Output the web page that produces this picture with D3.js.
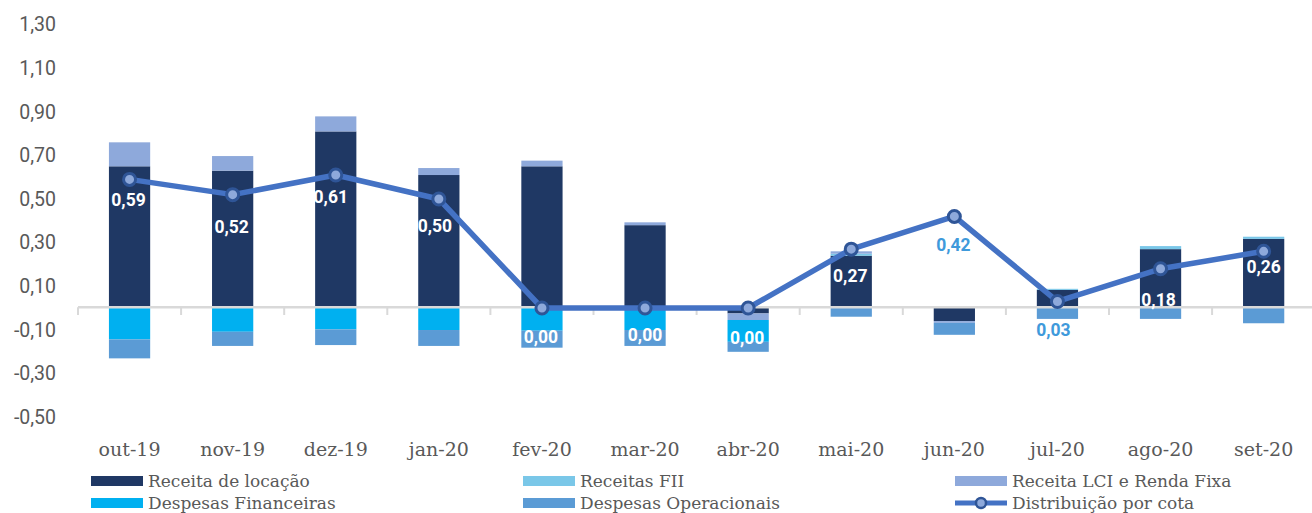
<!DOCTYPE html>
<html>
<head>
<meta charset="utf-8">
<script src="https://cdn.jsdelivr.net/npm/d3@7"></script>
<style>
  html, body { margin: 0; padding: 0; background: #fff; }
  svg { display: block; }
</style>
</head>
<body>
<svg id="chart" width="1312" height="513"></svg>
<script>
// ---- Data ----
const categories = ['out-19','nov-19','dez-19','jan-20','fev-20','mar-20','abr-20','mai-20','jun-20','jul-20','ago-20','set-20'];
const receitaLocacao = [0.65, 0.63, 0.81, 0.61, 0.65, 0.38, -0.025, 0.24, -0.06, 0.083, 0.27, 0.317];
const receitasFII = [0, 0, 0, 0, 0, 0, 0, 0.009, 0, 0.005, 0.014, 0.01];
const receitaLCI = [0.11, 0.067, 0.069, 0.032, 0.026, 0.013, -0.03, 0.011, -0.008, 0, 0, 0];
const despesasFinanceiras = [-0.144, -0.109, -0.098, -0.101, -0.104, -0.101, -0.1, 0, 0, 0, 0, 0];
const despesasOperacionais = [-0.087, -0.065, -0.072, -0.073, -0.078, -0.073, -0.046, -0.04, -0.055, -0.05, -0.05, -0.07];
const distribuicao = [0.59, 0.52, 0.61, 0.50, 0.00, 0.00, 0.00, 0.27, 0.42, 0.03, 0.18, 0.26];
const yTicks = [-0.5, -0.3, -0.1, 0.1, 0.3, 0.5, 0.7, 0.9, 1.1, 1.3];
const seriesNames = ['Receita de locação', 'Receitas FII', 'Receita LCI e Renda Fixa', 'Despesas Financeiras', 'Despesas Operacionais'];
const lineName = 'Distribuição por cota';

// ---- Styles ----
const colors = ['#1F3864', '#7AC7E8', '#8EA9DB', '#00B0F0', '#5B9BD5'];
const lineColor = '#4472C4';
const markerStroke = '#2F5597';
const markerFill = '#8EA9DB';
const textGrey = '#595959';
const outsideLabel = '#3F9ADB';

const svg = d3.select('#chart');

const x = d3.scaleBand().domain(categories).range([78, 1315.2]).padding(0);
const y = d3.scaleLinear().domain([-0.5, 1.3]).range([417, 24.6]);
const barW = x.bandwidth() * 0.4;
const cx = c => x(c) + x.bandwidth() / 2;

// stacked data
const rows = categories.map((c, i) => ({
  cat: c,
  s0: receitaLocacao[i], s1: receitasFII[i], s2: receitaLCI[i], s3: despesasFinanceiras[i], s4: despesasOperacionais[i]
}));
const keys = ['s0', 's1', 's2', 's3', 's4'];
const stack = d3.stack().keys(keys).order(d3.stackOrderNone).offset(d3.stackOffsetDiverging)(rows);

// bars
svg.append('g').selectAll('g').data(stack).join('g')
  .attr('fill', (d, i) => colors[i])
  .selectAll('rect').data(d => d.filter(v => v[1] - v[0] !== 0)).join('rect')
  .attr('x', d => cx(d.data.cat) - barW / 2)
  .attr('width', barW)
  .attr('y', d => y(Math.max(d[0], d[1])))
  .attr('height', d => Math.abs(y(d[0]) - y(d[1])));

// zero axis
const axisG = svg.append('g');
axisG.append('line')
  .attr('x1', x.range()[0]).attr('x2', 1312)
  .attr('y1', y(0) - 0.8).attr('y2', y(0) - 0.8)
  .attr('stroke', '#D9D9D9').attr('stroke-width', 2.5);
axisG.selectAll('line.tick').data(categories).join('line')
  .attr('class', 'tick')
  .attr('x1', d => x(d)).attr('x2', d => x(d))
  .attr('y1', y(0) - 0.8).attr('y2', y(0) + 7)
  .attr('stroke', '#D9D9D9').attr('stroke-width', 2);

// y labels
const fmt = v => d3.format('.2f')(v).replace('.', ',').replace('−', '-');
svg.append('g').selectAll('text').data(yTicks).join('text')
  .attr('x', 56).attr('y', d => y(d))
  .attr('dy', '0.35em')
  .attr('text-anchor', 'end')
  .attr('font-family', 'Roboto, sans-serif')
  .attr('font-size', 19.5)
  .attr('fill', textGrey)
  .text(d => fmt(d));

// x labels
svg.append('g').selectAll('text').data(categories).join('text')
  .attr('x', d => cx(d)).attr('y', 456)
  .attr('text-anchor', 'middle')
  .attr('font-family', '"DejaVu Serif", serif')
  .attr('font-size', 19)
  .attr('fill', textGrey)
  .text(d => d);

// line
const pts = categories.map((c, i) => ({ c, v: distribuicao[i] }));
svg.append('path')
  .datum(pts)
  .attr('fill', 'none')
  .attr('stroke', lineColor)
  .attr('stroke-width', 5.5)
  .attr('stroke-linejoin', 'round')
  .attr('d', d3.line().x(d => cx(d.c)).y(d => y(d.v)));
svg.append('g').selectAll('circle').data(pts).join('circle')
  .attr('cx', d => cx(d.c)).attr('cy', d => y(d.v))
  .attr('r', 6)
  .attr('fill', markerFill)
  .attr('stroke', markerStroke)
  .attr('stroke-width', 3);

// data labels (layout offsets relative to each point)
const labelDx = [-1, -1, -5, -4, -1, 0, -1, -1, -1, -4, -2, 0];
const labelDy = [20, 32, 22, 27, 29, 27, 30, 27, 28, 28, 31, 16];
const outside = [false, false, false, false, false, false, false, false, true, true, false, false];
svg.append('g').selectAll('text').data(pts).join('text')
  .attr('x', (d, i) => cx(d.c) + labelDx[i])
  .attr('y', (d, i) => y(d.v) + labelDy[i])
  .attr('dy', '0.35em')
  .attr('text-anchor', 'middle')
  .attr('font-family', 'Roboto, sans-serif')
  .attr('font-weight', 'bold')
  .attr('font-size', 17.5)
  .attr('fill', (d, i) => outside[i] ? outsideLabel : '#FFFFFF')
  .text(d => fmt(d.v));

// legend
const legendItems = [
  { name: seriesNames[0], color: colors[0], col: 0, row: 0 },
  { name: seriesNames[1], color: colors[1], col: 1, row: 0 },
  { name: seriesNames[2], color: colors[2], col: 2, row: 0 },
  { name: seriesNames[3], color: colors[3], col: 0, row: 1 },
  { name: seriesNames[4], color: colors[4], col: 1, row: 1 },
  { name: lineName, line: true, col: 2, row: 1 }
];
const colX = [91, 523, 955];
const rowY = [476, 498];
const lg = svg.append('g').selectAll('g').data(legendItems).join('g')
  .attr('transform', d => `translate(${colX[d.col]},${rowY[d.row]})`);
lg.filter(d => !d.line).append('rect')
  .attr('width', 52).attr('height', 10)
  .attr('fill', d => d.color);
const ll = lg.filter(d => d.line);
ll.append('line').attr('x1', 0).attr('x2', 52).attr('y1', 5).attr('y2', 5)
  .attr('stroke', lineColor).attr('stroke-width', 5);
ll.append('circle').attr('cx', 26).attr('cy', 5).attr('r', 5)
  .attr('fill', markerFill).attr('stroke', markerStroke).attr('stroke-width', 2.5);
lg.append('text')
  .attr('x', 57).attr('y', 11)
  .attr('font-family', '"DejaVu Serif", serif')
  .attr('font-size', 17)
  .attr('fill', textGrey)
  .text(d => d.name);
</script>
</body>
</html>
